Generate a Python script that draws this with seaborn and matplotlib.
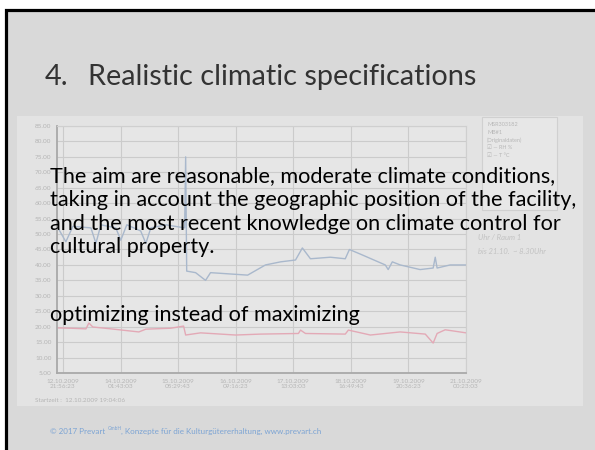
import pandas as pd
import numpy as np
import matplotlib
matplotlib.use("Agg")
import matplotlib.pyplot as plt
import matplotlib.ticker as mticker
import seaborn as sns
from matplotlib.patches import Rectangle

# values
# hours after the first x tick (12.10.2009 21:56:23)
rh_hours = [-2.4, 1.4, 4.8, 13.5, 15.9, 18.3, 25.5, 27.9, 30.8, 37.5, 40.0, 42.4, 49.6,
            58.7, 59.2, 59.7, 64.0, 68.8, 71.2, 89.1, 97.7, 105.0, 112.2, 115.5, 119.4,
            129.0, 136.2, 138.2, 143.5, 155.5, 156.9, 158.9, 162.7, 172.3, 178.6, 179.6,
            180.5, 186.8, 194.5]
rh_values = [52, 47.5, 52.5, 52, 47, 53, 52, 48, 53, 51, 47, 52, 53,
             52, 75, 38, 37.5, 35, 37.5, 36.7, 40, 41, 41.6, 45.5, 42,
             42.5, 42, 45, 43.5, 40, 38.5, 41, 40, 38.5, 39, 42.5,
             39, 40, 40]
t_hours = [-2.4, 3.9, 11.1, 12.5, 14.4, 23.1, 36.6, 40.0, 52.0, 58.2, 59.2, 66.4, 83.3,
           95.3, 113.6, 114.6, 117.0, 136.2, 137.7, 148.3, 162.7, 174.8, 178.6, 180.5,
           184.4, 194.5]
t_values = [19.6, 19.5, 19.3, 21.2, 19.9, 19.3, 18.3, 19.2, 19.5, 20.2, 17.3, 18.0, 17.3,
            17.6, 17.8, 18.9, 17.8, 17.6, 18.9, 17.3, 18.3, 17.6, 14.7, 17.8,
            19.0, 18.0]
tick_labels = ["12.10.2009 21:56:23", "14.10.2009 01:43:03", "15.10.2009 05:29:43",
               "16.10.2009 09:16:23", "17.10.2009 13:03:03", "18.10.2009 16:49:43",
               "19.10.2009 20:36:23", "21.10.2009 00:23:03"]
start_time = "12.10.2009 19:04:06"
y_ticks = list(range(5, 90, 5))
legend_lines = ["MSR303182", "MB#1", "(Originaldaten)", "\u2611 \u2014 RH %", "\u2611 \u2014 T \u00b0C"]

title_num = "4."
title = "Realistic climatic specifications"
body = ["The aim are reasonable, moderate climate conditions,",
        "taking in account the geographic position of the facility,",
        "and the most recent knowledge on climate control for",
        "cultural property."]
body2 = "optimizing instead of maximizing"

W, H = 595, 450
FONT = ["Lato", "DejaVu Sans"]

tick_times = pd.to_datetime(tick_labels, format="%d.%m.%Y %H:%M:%S")
t0 = tick_times[0]
rh = pd.DataFrame({"time": t0 + pd.to_timedelta(rh_hours, unit="h"), "value": rh_values})
temp = pd.DataFrame({"time": t0 + pd.to_timedelta(t_hours, unit="h"), "value": t_values})

sns.set_style("white")
plt.rcParams["font.family"] = FONT

fig = plt.figure(figsize=(W / 100, H / 100), dpi=100, facecolor="white")
r = fig.canvas.get_renderer()


def px(x, y):
    return x / W, 1 - y / H


# slide background + black frame
fig.patches.append(Rectangle(px(5.5, 470), 620 / W, 460 / H, transform=fig.transFigure,
                             facecolor="#d9d9d9", edgecolor="black", lw=2.3, zorder=-10))
# the pasted screenshot area
fig.patches.append(Rectangle(px(17, 406), 566 / W, 290 / H, transform=fig.transFigure,
                             facecolor="#e3e3e3", edgecolor="none", zorder=-9))

ax = fig.add_axes([57 / W, 1 - 373 / H, 409 / W, 247 / H])
ax.set_facecolor("#e6e6e6")
sns.lineplot(data=rh, x="time", y="value", ax=ax, color="#a9b8cc", lw=1.0)
sns.lineplot(data=temp, x="time", y="value", ax=ax, color="#e3a9b6", lw=1.0)
ax.set_xlim(pd.to_datetime(start_time, format="%d.%m.%Y %H:%M:%S"), tick_times[-1])
ax.set_ylim(5, 85)
ax.set_yticks(y_ticks)
ax.yaxis.set_major_formatter(mticker.FormatStrFormatter("%.2f"))
ax.set_xticks(tick_times)
ax.set_xticklabels([l.replace(" ", "\n") for l in tick_labels])
ax.set_xlabel("")
ax.set_ylabel("")
ax.grid(True, color="#cbcbcb", lw=0.8)
ax.tick_params(labelsize=4.6, colors="#b5b5b5", length=2, width=0.6, pad=2)
for s in ["left", "bottom"]:
    ax.spines[s].set_color("#a9a9a9")
    ax.spines[s].set_linewidth(1.3)
for s in ["top", "right"]:
    ax.spines[s].set_color("#cfcfcf")
    ax.spines[s].set_linewidth(0.8)

fig.text(*px(35, 401), "Startzeit :  " + start_time, fontsize=4.6, color="#b5b5b5",
         va="center")

# legend panel of the logger software
fig.patches.append(Rectangle(px(482, 210), 75 / W, 93 / H, transform=fig.transFigure,
                             facecolor="#e7e7e7", edgecolor="#d0d0d0", lw=0.8, zorder=-8))
for i, s in enumerate(legend_lines):
    fig.text(*px(487, 125 + i * 7.5), s, fontsize=4.0, color="#b7b7b7", va="center")
fig.text(*px(478, 238), "Uhr / Raum 1", fontsize=5.5, color="#c2c2c2", style="italic",
         va="center")
fig.text(*px(478, 251), "bis 21.10.  ~ 8.30Uhr", fontsize=5.5, color="#c2c2c2",
         style="italic", va="center")


def fit(x, y, s, width, **kw):
    t = fig.text(*px(x, y), s, **kw)
    w = t.get_window_extent(renderer=r).width
    t.set_fontsize(t.get_fontsize() * width / w)
    return t


tt = fit(88, 85, title, 389, fontsize=20, color="#333333", va="baseline")
fig.text(*px(45, 85), title_num, fontsize=tt.get_fontsize(), color="#333333",
         va="baseline")

bt = fit(50, 182, body[0], 507, fontsize=14, color="black", va="baseline")
for i, s in enumerate(body[1:]):
    fig.text(*px(50, 206 + 23.7 * i), s, fontsize=bt.get_fontsize(), color="black",
             va="baseline")
fig.text(*px(50, 321), body2, fontsize=bt.get_fontsize(), color="black", va="baseline")

# footer
fc = "#7ca4d4"
f1 = fig.text(*px(50, 434), "\u00a9 2017 Prevart ", fontsize=5.8, color=fc, va="baseline")
x = 50 + f1.get_window_extent(renderer=r).width
f2 = fig.text(*px(x, 430), "GmbH", fontsize=3.5, color=fc, va="baseline")
x += f2.get_window_extent(renderer=r).width
fig.text(*px(x, 434), ", Konzepte f\u00fcr die Kulturg\u00fctererhaltung, www.prevart.ch",
         fontsize=5.8, color=fc, va="baseline")

fig.savefig("out.png", dpi=100, facecolor="white")
